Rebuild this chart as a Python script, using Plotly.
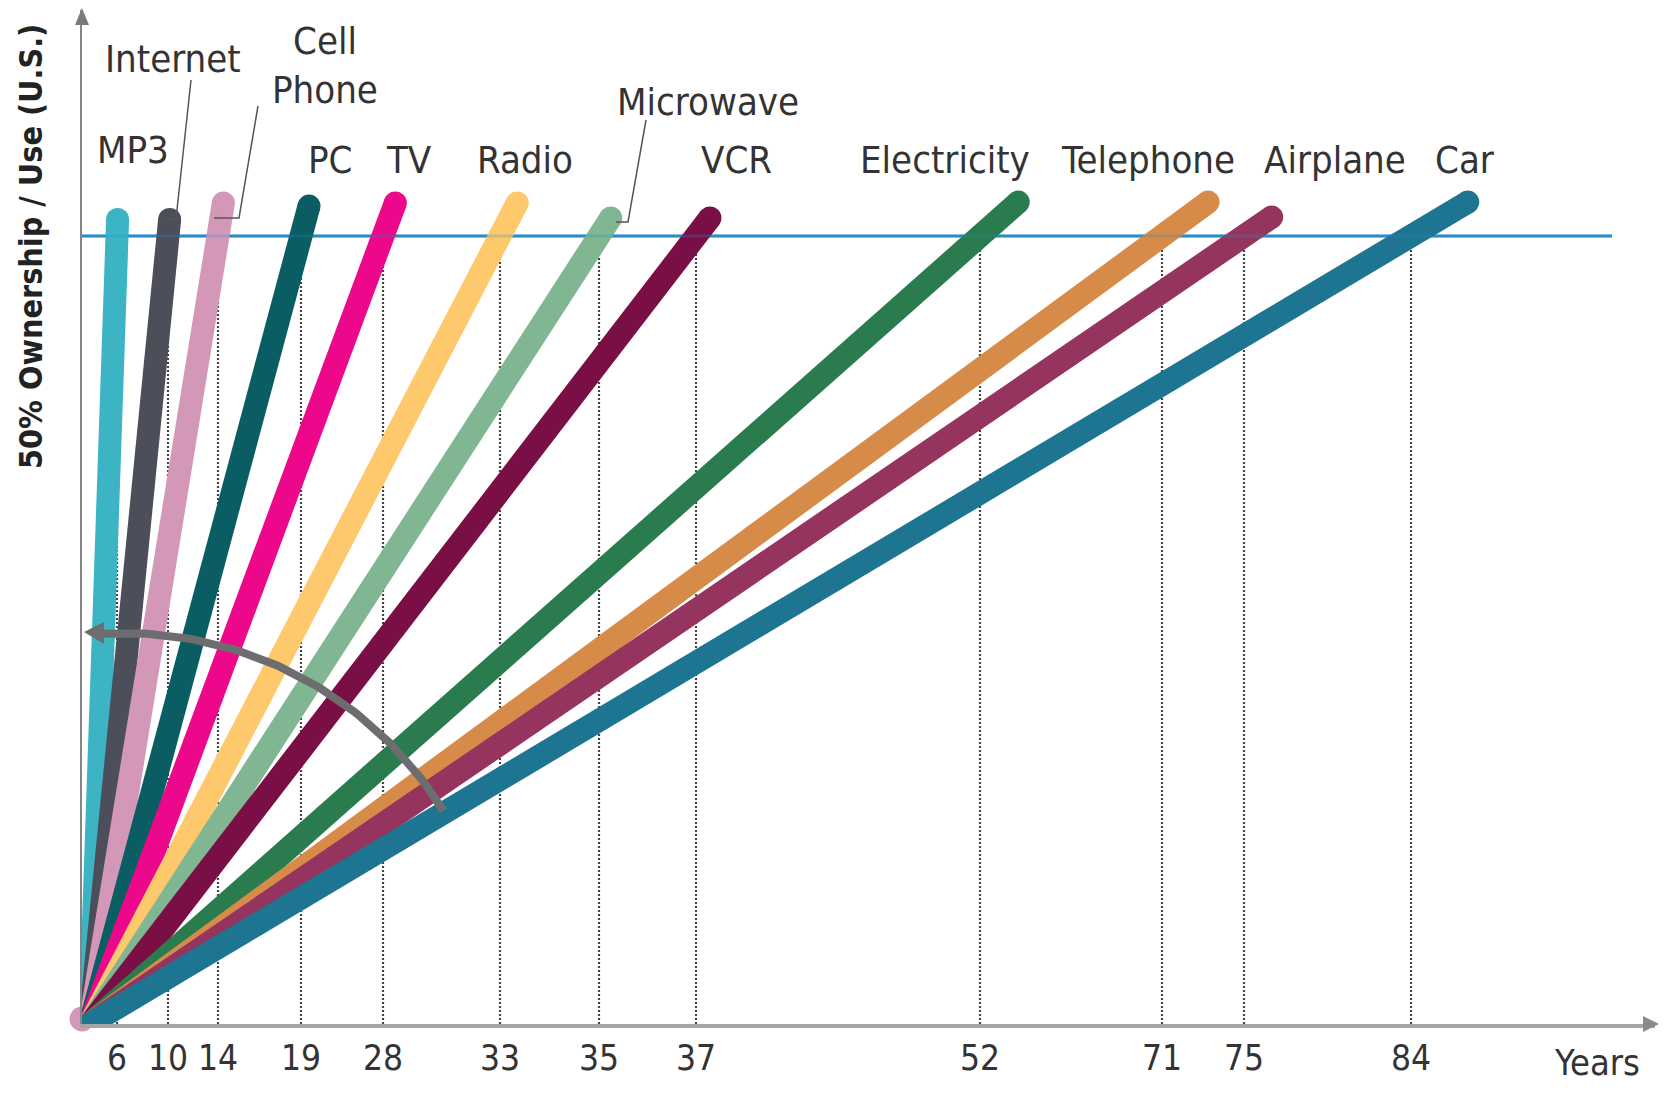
import numpy as np
import plotly.graph_objects as go

# ---------------- data ----------------
technologies = ["MP3", "Internet", "Cell Phone", "PC", "TV", "Radio", "Microwave",
                "VCR", "Electricity", "Telephone", "Airplane", "Car"]
years_to_50pct = [6, 10, 14, 19, 28, 33, 35, 37, 52, 71, 75, 84]
ownership_level = 50          # % of U.S. households
tick_years = [6, 10, 14, 19, 28, 33, 35, 37, 52, 71, 75, 84]

# ---------------- layout / style ----------------
PAGE_OFF = 8                  # default body margin of the html page
W, H = 1667 - 2 * PAGE_OFF, 1093 - 2 * PAGE_OFF
AX_LEFT_PX, AX_BOTTOM_PX = 82, 1024      # origin of axes (page px)
PLOT_RIGHT_PX, PLOT_TOP_PX = 1655, 10
FIFTY_PX = 236                           # page y of the 50 % level
PX_PER_PCT = (AX_BOTTOM_PX - FIFTY_PX) / ownership_level
PLOT_W = PLOT_RIGHT_PX - AX_LEFT_PX
PLOT_H = AX_BOTTOM_PX - PLOT_TOP_PX

# the illustration uses an irregular (non-proportional) time axis:
# horizontal slot (px from the y axis) given to each tick year
axis_slot = {6: 35, 10: 86, 14: 136, 19: 219, 28: 301, 33: 418, 35: 517,
             37: 614, 52: 898, 71: 1080, 75: 1162, 84: 1329}

colors = ["#3cb4c4", "#4c4e5a", "#d398b8", "#0a5d62", "#ec078b", "#fdc96c",
          "#80b692", "#7a0f46", "#2a7c4f", "#d68b49", "#95345f", "#1e7591"]
overshoot_pct = [1.05, 1.05, 2.1, 1.9, 2.1, 2.1, 1.15, 1.15, 2.15, 2.15, 1.2, 2.15]
start_blob = [False, False, True] + [False] * 9
LINE_W = 23
ORIGIN_X = 8

FONT = "DejaVu Sans Condensed, Liberation Sans Narrow, Roboto, sans-serif"
TXT = "#333333"


def px_x(px):
    return px - AX_LEFT_PX


def px_y(py):
    return (AX_BOTTOM_PX - py) / PX_PER_PCT


def pp_x(px):
    return (px - AX_LEFT_PX) / PLOT_W


def pp_y(py):
    return (AX_BOTTOM_PX - py) / PLOT_H


fig = go.Figure()

# dotted drop lines from the 50 % level to the time axis
dx, dy = [], []
for yr in tick_years:
    dx += [axis_slot[yr], axis_slot[yr], None]
    dy += [0, ownership_level, None]
fig.add_trace(go.Scatter(x=dx, y=dy, mode="lines", hoverinfo="skip",
                         line=dict(color="#444444", width=2.2, dash="2px,2px")))

# 50 % level (behind the bands)
fig.add_trace(go.Scatter(x=[0, px_x(1612)], y=[ownership_level, ownership_level],
                         mode="lines", hoverinfo="skip",
                         line=dict(color="#2b8cc6", width=3)))

# adoption bands
for name, yr, col, ov, blob in zip(technologies, years_to_50pct, colors,
                                   overshoot_pct, start_blob):
    slot = axis_slot[yr]
    y_start, y_end = -2.0, ownership_level + ov
    xs = [ORIGIN_X + (slot - ORIGIN_X) * y_start / ownership_level,
          ORIGIN_X + (slot - ORIGIN_X) * y_end / ownership_level]
    fig.add_trace(go.Scatter(
        x=xs, y=[y_start, y_end], mode="lines+markers", name=name,
        line=dict(color=col, width=LINE_W),
        marker=dict(size=[0, LINE_W], color=col, opacity=1, line=dict(width=0)),
        hovertemplate=f"{name}: {yr} years<extra></extra>"))
    if blob:
        fig.add_trace(go.Scatter(
            x=[0], y=[px_y(1019)], mode="markers", hoverinfo="skip", cliponaxis=False,
            marker=dict(size=LINE_W + 2, color=col, opacity=1, line=dict(width=0))))

# faint 50 % line showing through the bands
fig.add_trace(go.Scatter(x=[0, px_x(1612)], y=[ownership_level, ownership_level],
                         mode="lines", hoverinfo="skip", opacity=0.25,
                         line=dict(color="#2b8cc6", width=3)))

# curved "acceleration" arrow
cx, cy, R = 124, 1009, 376
ang = np.linspace(np.radians(93.5), np.radians(31.8), 80)
arc_x = [px_x(cx + R * np.cos(a)) for a in ang]
arc_y = [px_y(cy - R * np.sin(a)) for a in ang]
fig.add_trace(go.Scatter(x=arc_x, y=arc_y, mode="lines", hoverinfo="skip",
                         line=dict(color="#6d6d70", width=8)))

shapes = []


def tri(pts, color):
    path = "M " + " L ".join(f"{pp_x(a)},{pp_y(b)}" for a, b in pts) + " Z"
    return dict(type="path", path=path, xref="paper", yref="paper", fillcolor=color,
                line=dict(width=0), layer="above")


shapes.append(tri([(84, 632), (104, 622), (104, 644)], "#6d6d70"))   # arc head
shapes.append(tri([(82, 8), (75, 25), (89, 25)], "#7a7a7a"))         # y arrow
shapes.append(tri([(1659, 1024), (1643, 1016), (1643, 1032)], "#8a8a8a"))  # x arrow

# leader lines for crowded labels
for pts in ([(191, 80), (176, 219), (167, 219)],
            [(258, 106), (239, 218), (214, 218)],
            [(646, 120), (628, 222), (616, 222)]):
    path = "M " + " L ".join(f"{pp_x(a)},{pp_y(b)}" for a, b in pts)
    shapes.append(dict(type="path", path=path, xref="paper", yref="paper",
                       line=dict(color="#555555", width=1.5), layer="above"))

# technology labels (page px centres)
label_pos = {"MP3": (133, 150), "Internet": (173, 59), "Cell Phone": (325, 65),
             "PC": (330, 160), "TV": (409, 160), "Radio": (525, 160),
             "Microwave": (708, 102), "VCR": (736, 160), "Electricity": (945, 160),
             "Telephone": (1148, 160), "Airplane": (1335, 160), "Car": (1465, 160)}
annotations = []
for name in technologies:
    px, py = label_pos[name]
    annotations.append(dict(x=pp_x(px), y=pp_y(py), xref="paper", yref="paper",
                            text=name.replace(" ", "<br>"), showarrow=False,
                            xanchor="center", yanchor="middle", align="center",
                            font=dict(family=FONT, size=38, color=TXT)))

annotations.append(dict(x=pp_x(1597), y=pp_y(1062), xref="paper", yref="paper",
                        text="Years", showarrow=False, xanchor="center",
                        yanchor="middle", font=dict(family=FONT, size=36, color=TXT)))
annotations.append(dict(x=pp_x(31), y=pp_y(247), xref="paper", yref="paper",
                        text="<b>50% Ownership / Use (U.S.)</b>", textangle=-90,
                        showarrow=False, xanchor="center", yanchor="middle",
                        font=dict(family=FONT, size=32, color="#222222")))

fig.update_layout(
    width=W, height=H, showlegend=False,
    paper_bgcolor="white", plot_bgcolor="white",
    margin=dict(l=AX_LEFT_PX - PAGE_OFF, r=W - (PLOT_RIGHT_PX - PAGE_OFF),
                t=PLOT_TOP_PX - PAGE_OFF, b=H - (AX_BOTTOM_PX - PAGE_OFF), pad=0),
    shapes=shapes, annotations=annotations,
    xaxis=dict(range=[0, PLOT_W], showgrid=False, zeroline=False,
               showline=True, linecolor="#a5a5a5", linewidth=3.5,
               tickmode="array", tickvals=[axis_slot[y] for y in tick_years],
               ticktext=[str(y) for y in tick_years], ticks="",
               tickfont=dict(family=FONT, size=35, color=TXT)),
    yaxis=dict(range=[0, PLOT_H / PX_PER_PCT], showgrid=False,
               zeroline=False, showline=True, linecolor="#858585", linewidth=2,
               showticklabels=False, ticks=""),
)

fig.write_html("out.html")
